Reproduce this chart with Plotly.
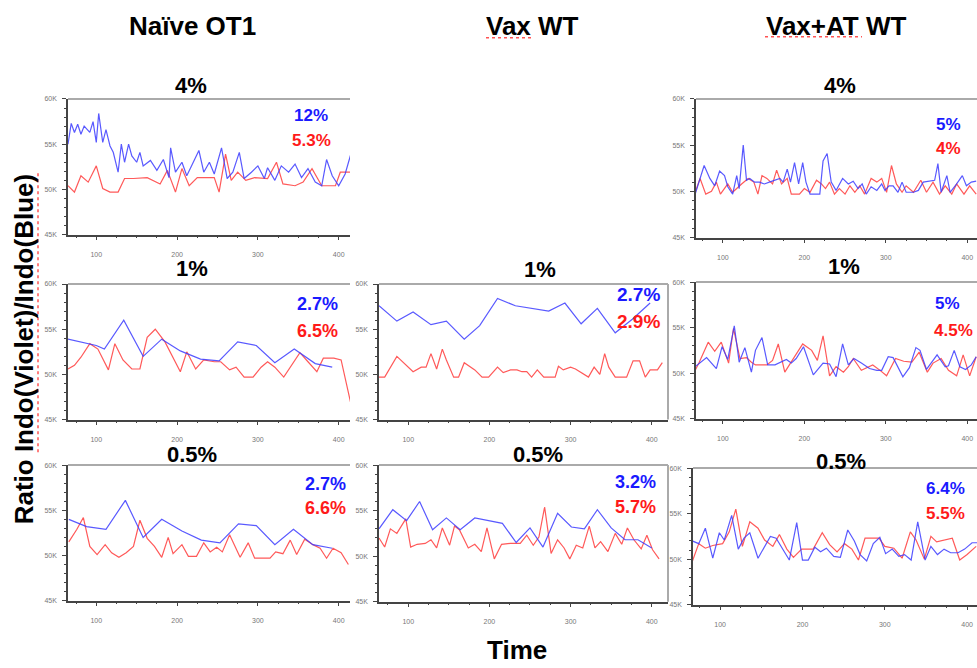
import plotly.graph_objects as go

W, H = 977, 668

# ---------------- data (time, ratio in K) ----------------
# Naive OT1 4%
naive4_t_blue = [65, 69, 73, 77, 81, 85, 92, 96, 100, 103, 108, 112, 117, 121, 127, 131, 135, 140, 144, 150, 154, 158, 167, 175, 183, 190, 192, 198, 206, 212, 219, 227, 233, 240, 246, 255, 262, 269, 277, 283, 292, 300, 308, 312, 321, 329, 338, 346, 354, 362, 371, 379, 385, 392, 400, 408, 415]
naive4_blue = [55.0, 57.3, 56.3, 57.2, 56.1, 57.0, 56.3, 57.5, 55.2, 58.4, 55.2, 56.6, 54.8, 54.1, 51.9, 55.0, 53.0, 55.0, 53.7, 53.0, 54.1, 52.6, 53.2, 52.1, 53.3, 51.3, 54.6, 51.9, 53.0, 51.5, 52.8, 54.3, 51.9, 53.0, 51.7, 54.6, 51.2, 51.9, 54.1, 51.2, 51.9, 52.6, 51.2, 52.4, 51.0, 52.6, 51.9, 52.8, 51.3, 52.3, 50.8, 50.4, 53.3, 51.5, 50.4, 51.7, 53.9]
naive4_t_red = [65, 73, 81, 90, 100, 108, 117, 127, 135, 146, 163, 179, 188, 198, 206, 215, 225, 246, 252, 260, 267, 275, 285, 296, 312, 323, 331, 346, 356, 367, 379, 396, 402, 415]
naive4_red = [50.4, 49.7, 51.5, 50.8, 52.6, 50.1, 49.7, 49.7, 51.2, 51.2, 51.3, 50.6, 52.1, 49.7, 52.3, 50.4, 51.3, 51.3, 49.7, 53.9, 51.0, 51.9, 51.0, 51.3, 51.2, 53.0, 50.6, 50.4, 50.8, 52.3, 50.4, 50.4, 51.9, 51.9]

# Naive OT1 1%
naive1_t_blue = [65, 100, 110, 134, 158, 181, 204, 229, 252, 275, 298, 321, 345, 371, 392]
naive1_blue = [53.9, 53.2, 52.8, 56.0, 52.0, 53.9, 52.6, 51.7, 51.5, 53.6, 53.2, 51.3, 52.8, 51.2, 50.8]
naive1_t_red = [65, 73, 81, 92, 102, 115, 123, 133, 144, 154, 163, 173, 185, 204, 212, 223, 233, 246, 254, 265, 273, 283, 294, 304, 312, 321, 332, 342, 352, 362, 373, 381, 394, 403, 415]
naive1_red = [50.6, 51.0, 51.9, 53.4, 52.8, 50.5, 53.4, 51.6, 50.6, 50.6, 54.1, 55.0, 53.6, 50.3, 52.5, 50.6, 51.6, 51.4, 51.4, 50.5, 50.8, 49.7, 49.7, 50.8, 51.4, 50.8, 49.7, 51.0, 52.4, 51.4, 50.3, 51.8, 51.8, 51.6, 46.8]

# Naive OT1 0.5%
naive05_t_blue = [66, 88, 112, 136, 158, 181, 206, 230, 253, 276, 298, 321, 344, 368, 392]
naive05_blue = [54.0, 53.2, 52.9, 56.1, 52.0, 54.0, 52.7, 51.7, 51.4, 53.5, 53.3, 51.2, 52.9, 51.2, 50.8]
naive05_t_red = [66, 76, 84, 92, 101, 111, 119, 128, 137, 146, 154, 163, 172, 181, 189, 195, 206, 214, 224, 233, 241, 249, 256, 265, 278, 288, 296, 315, 322, 331, 340, 348, 358, 368, 377, 385, 393, 403, 412]
naive05_red = [51.5, 52.9, 54.2, 51.0, 50.1, 51.2, 50.3, 49.8, 50.3, 51.0, 53.9, 51.9, 51.0, 49.8, 52.0, 50.2, 51.2, 49.9, 49.9, 51.4, 50.4, 50.9, 50.4, 52.3, 49.8, 51.4, 49.7, 49.7, 50.4, 50.2, 51.7, 50.1, 51.8, 51.2, 50.8, 49.7, 50.8, 50.3, 49.0]

# Vax WT 1%
vax1_t_blue = [64, 86, 106, 128, 147, 169, 188, 210, 232, 252, 273, 293, 313, 333, 355, 376, 398]
vax1_blue = [57.6, 55.9, 56.9, 55.5, 55.9, 53.9, 55.4, 58.4, 57.6, 57.3, 57.0, 57.9, 55.6, 57.3, 54.6, 56.1, 57.9]
vax1_t_red = [64, 71, 86, 106, 116, 122, 128, 135, 142, 147, 156, 162, 169, 182, 191, 199, 210, 217, 226, 234, 240, 246, 252, 259, 267, 281, 285, 291, 300, 306, 322, 329, 336, 342, 347, 355, 369, 377, 385, 392, 398, 407, 413]
vax1_red = [49.7, 49.7, 52.0, 50.3, 50.8, 50.8, 52.3, 50.6, 52.8, 51.6, 49.7, 49.7, 51.3, 50.5, 49.7, 49.7, 50.8, 50.2, 50.5, 50.5, 50.3, 50.3, 49.7, 50.5, 49.7, 49.7, 50.9, 50.5, 50.8, 50.6, 49.7, 50.8, 50.0, 52.3, 50.8, 49.7, 49.7, 51.5, 51.5, 49.7, 50.5, 50.5, 51.3]

# Vax WT 0.5%
vax05_t_blue = [64, 81, 98, 114, 130, 147, 164, 182, 199, 216, 233, 250, 266, 284, 301, 317, 333, 350, 367, 383, 400]
vax05_blue = [53.0, 55.1, 53.9, 56.0, 52.9, 54.2, 52.9, 54.2, 53.9, 53.6, 51.5, 53.1, 51.0, 54.7, 53.2, 53.0, 55.1, 53.1, 51.8, 51.8, 50.9]
vax05_t_red = [64, 71, 78, 86, 97, 103, 111, 121, 128, 135, 142, 151, 157, 163, 174, 182, 190, 197, 206, 215, 226, 238, 246, 254, 261, 268, 276, 284, 292, 299, 307, 315, 323, 330, 337, 346, 355, 363, 370, 378, 387, 394, 401, 409]
vax05_red = [52.0, 51.0, 53.0, 52.5, 54.1, 51.0, 51.3, 51.4, 51.8, 50.9, 53.1, 51.2, 53.3, 52.9, 50.9, 51.3, 50.5, 53.1, 49.7, 51.3, 51.4, 51.4, 52.3, 51.2, 52.1, 55.4, 50.3, 51.8, 50.9, 49.7, 51.2, 50.9, 53.3, 50.9, 51.6, 50.5, 52.5, 51.3, 53.1, 51.8, 50.8, 52.3, 50.7, 49.7]

# Vax+AT WT 4%
vaxat4_t_blue = [66, 71, 77, 84, 90, 96, 102, 106, 112, 117, 120, 125, 129, 133, 139, 145, 151, 157, 164, 170, 174, 179, 183, 188, 193, 198, 202, 207, 219, 223, 228, 233, 239, 247, 254, 260, 266, 271, 276, 282, 289, 295, 299, 304, 309, 315, 320, 325, 334, 340, 346, 354, 360, 364, 368, 375, 379, 387, 394, 399, 405, 411]
vaxat4_blue = [49.7, 51.0, 52.8, 51.4, 50.6, 52.2, 51.7, 50.5, 49.7, 51.7, 50.3, 55.0, 51.2, 51.4, 51.0, 51.0, 50.8, 51.0, 51.2, 51.4, 51.0, 52.4, 51.0, 53.1, 50.8, 53.1, 51.0, 49.7, 49.7, 53.3, 54.1, 51.0, 50.1, 51.4, 50.8, 51.1, 50.3, 50.8, 49.7, 50.5, 50.1, 50.8, 50.1, 50.6, 50.6, 49.9, 51.0, 49.9, 49.9, 50.1, 51.0, 51.1, 51.2, 53.0, 49.9, 51.7, 49.9, 50.8, 51.7, 50.6, 51.0, 51.1]
vaxat4_t_red = [66, 72, 79, 86, 92, 97, 106, 112, 123, 131, 138, 143, 148, 154, 161, 166, 172, 179, 184, 194, 200, 207, 215, 221, 226, 231, 237, 243, 250, 256, 262, 268, 274, 282, 289, 295, 301, 307, 313, 320, 325, 334, 343, 350, 358, 366, 373, 381, 387, 396, 403, 411]
vaxat4_red = [49.9, 51.4, 49.7, 50.0, 51.0, 49.7, 50.8, 49.9, 50.8, 51.4, 51.0, 49.7, 51.7, 51.4, 50.8, 52.3, 50.8, 51.4, 49.7, 49.7, 50.3, 49.9, 51.2, 50.8, 50.3, 51.0, 49.7, 50.3, 49.7, 50.6, 49.9, 50.6, 49.7, 51.4, 51.0, 51.4, 49.9, 52.8, 50.8, 49.9, 50.6, 49.9, 51.2, 49.9, 51.0, 49.7, 50.6, 49.7, 50.8, 49.7, 50.6, 49.7]

# Vax+AT WT 1%
vaxat1_t_blue = [66, 80, 92, 99, 106, 114, 120, 127, 135, 140, 148, 155, 164, 172, 178, 184, 190, 199, 211, 223, 231, 239, 247, 254, 261, 270, 280, 289, 295, 303, 309, 321, 329, 337, 342, 350, 363, 373, 377, 384, 391, 398, 405, 411]
vaxat1_blue = [50.7, 51.7, 50.5, 52.9, 51.5, 55.2, 51.2, 52.8, 50.1, 52.5, 53.9, 50.9, 50.9, 51.2, 51.5, 51.1, 51.6, 52.9, 49.8, 51.1, 51.0, 49.6, 53.2, 50.9, 51.6, 51.1, 50.5, 50.3, 50.3, 51.8, 51.7, 49.6, 50.6, 52.8, 52.5, 50.4, 52.0, 50.7, 50.8, 52.5, 50.7, 50.4, 50.9, 51.8]
vaxat1_t_red = [66, 71, 82, 90, 98, 107, 113, 121, 129, 135, 140, 154, 161, 168, 176, 186, 198, 209, 216, 223, 231, 239, 248, 254, 260, 270, 284, 293, 301, 312, 322, 332, 341, 351, 358, 368, 377, 387, 395, 403, 411]
vaxat1_red = [50.3, 51.2, 53.4, 52.4, 53.4, 51.1, 54.9, 51.6, 51.7, 51.2, 50.9, 50.9, 51.4, 53.2, 50.1, 51.5, 53.2, 52.5, 51.4, 54.1, 49.7, 50.7, 50.1, 50.7, 51.6, 50.3, 50.9, 50.3, 49.7, 51.6, 51.3, 51.2, 52.3, 50.1, 51.1, 51.6, 50.3, 49.7, 52.0, 49.7, 51.8]

# Vax+AT WT 0.5%
vaxat05_t_blue = [66, 74, 82, 91, 99, 105, 114, 122, 129, 136, 146, 161, 168, 176, 184, 193, 200, 207, 215, 222, 229, 238, 246, 255, 263, 270, 278, 286, 294, 301, 309, 317, 324, 332, 340, 349, 356, 364, 372, 380, 389, 397, 406, 413]
vaxat05_blue = [52.0, 51.7, 53.4, 50.1, 52.9, 52.1, 54.8, 51.1, 52.3, 52.9, 50.1, 52.5, 52.3, 51.1, 49.9, 54.0, 49.9, 49.9, 51.3, 50.8, 51.2, 50.3, 50.2, 53.2, 52.0, 50.5, 49.8, 51.7, 52.4, 50.6, 51.1, 50.3, 50.5, 49.9, 54.1, 49.9, 51.4, 50.5, 51.1, 50.7, 50.7, 51.1, 51.8, 51.8]
vaxat05_t_red = [66, 74, 82, 91, 103, 111, 119, 127, 136, 146, 154, 164, 172, 181, 189, 199, 213, 224, 233, 242, 251, 260, 268, 276, 293, 300, 311, 321, 331, 338, 348, 356, 363, 372, 382, 391, 400, 411]
vaxat05_red = [49.7, 51.7, 51.2, 51.5, 51.7, 53.0, 55.5, 51.4, 54.1, 53.4, 52.1, 51.4, 52.7, 51.1, 50.2, 51.1, 51.1, 52.9, 51.6, 50.8, 51.7, 51.1, 49.9, 52.3, 52.3, 51.4, 51.2, 50.1, 53.0, 52.1, 50.0, 52.5, 51.9, 52.1, 52.3, 49.9, 50.5, 51.4]

column_titles = ["Naïve OT1", "Vax WT", "Vax+AT WT"]
y_title = "Ratio Indo(Violet)/Indo(Blue)"
x_title = "Time"
y_ticks = [45, 50, 55, 60]
x_ticks = [100, 200, 300, 400]

BLUE = "rgba(60,60,255,0.85)"
RED = "rgba(255,60,60,0.85)"


def px(x):
    return x / W


def py(y):
    return 1 - y / H


panels = [
    dict(tb=naive4_t_blue, b=naive4_blue, tr=naive4_t_red, r=naive4_red, title="4%", pb="12%", pr="5.3%",
         xd=(68, 350), yd=(96, 233), xr=(65, 414), box=False, tpos=(191, 82), ppos=(330, 113, 333, 138), pfs=17),
    dict(tb=naive1_t_blue, b=naive1_blue, tr=naive1_t_red, r=naive1_red, title="1%", pb="2.7%", pr="6.5%",
         xd=(68, 350), yd=(283, 420), xr=(65, 414), box=False, tpos=(192, 267), ppos=(340, 303, 340, 330), pfs=18),
    dict(tb=naive05_t_blue, b=naive05_blue, tr=naive05_t_red, r=naive05_red, title="0.5%", pb="2.7%", pr="6.6%",
         xd=(68, 350), yd=(466, 603), xr=(65, 414), box=False, tpos=(192, 455), ppos=(348, 485, 348, 509), pfs=18),
    dict(tb=vax1_t_blue, b=vax1_blue, tr=vax1_t_red, r=vax1_red, title="1%", pb="2.7%", pr="2.9%",
         xd=(379, 668), yd=(283, 420), xr=(64, 420), box=True, tpos=(540, 268), ppos=(662, 294, 662, 321), pfs=19),
    dict(tb=vax05_t_blue, b=vax05_blue, tr=vax05_t_red, r=vax05_red, title="0.5%", pb="3.2%", pr="5.7%",
         xd=(379, 668), yd=(466, 604), xr=(64, 420), box=True, tpos=(538, 455), ppos=(658, 483, 658, 508), pfs=18),
    dict(tb=vaxat4_t_blue, b=vaxat4_blue, tr=vaxat4_t_red, r=vaxat4_red, title="4%", pb="5%", pr="4%",
         xd=(696, 977), yd=(96, 236), xr=(67, 412), box=False, tpos=(840, 82), ppos=(963, 122, 963, 146), pfs=17),
    dict(tb=vaxat1_t_blue, b=vaxat1_blue, tr=vaxat1_t_red, r=vaxat1_red, title="1%", pb="5%", pr="4.5%",
         xd=(696, 977), yd=(281, 419), xr=(67, 412), box=False, tpos=(844, 265), ppos=(962, 303, 975, 330), pfs=17),
    dict(tb=vaxat05_t_blue, b=vaxat05_blue, tr=vaxat05_t_red, r=vaxat05_red, title="0.5%", pb="6.4%", pr="5.5%",
         xd=(693, 977), yd=(469, 607), xr=(67, 412), box=False, tpos=(841, 462), ppos=(967, 490, 967, 515), pfs=17),
]

FONT = "Liberation Sans, Arial, sans-serif"
fig = go.Figure()
annotations = []
shapes = []
layout_axes = {}

for i, p in enumerate(panels):
    n = i + 1
    xa = "x" if n == 1 else f"x{n}"
    ya = "y" if n == 1 else f"y{n}"
    fig.add_trace(go.Scatter(x=p["tr"], y=p["r"], mode="lines", line=dict(color=RED, width=1.2),
                             xaxis=xa, yaxis=ya, hoverinfo="skip"))
    fig.add_trace(go.Scatter(x=p["tb"], y=p["b"], mode="lines", line=dict(color=BLUE, width=1.2),
                             xaxis=xa, yaxis=ya, hoverinfo="skip"))
    xkey = "xaxis" if n == 1 else f"xaxis{n}"
    ykey = "yaxis" if n == 1 else f"yaxis{n}"
    layout_axes[xkey] = dict(
        domain=[px(p["xd"][0]), px(p["xd"][1])], range=list(p["xr"]), anchor=ya,
        showline=True, linecolor="#444", linewidth=1.5, showgrid=False, zeroline=False,
        tickmode="array", tickvals=x_ticks, ticks="outside", ticklen=4, tickcolor="#444",
        tickfont=dict(size=7, color="#777", family=FONT), ticklabelstandoff=8,
        minor=dict(tickmode="linear", tick0=0, dtick=25, ticks="outside", ticklen=2, tickcolor="#444"),
    )
    layout_axes[ykey] = dict(
        domain=[py(p["yd"][1]), py(p["yd"][0])], range=[45, 60], anchor=xa,
        showline=True, linecolor="#444", linewidth=1.5, showgrid=False, zeroline=False,
        tickmode="array", tickvals=y_ticks, ticktext=[f"{v}K" for v in y_ticks],
        ticks="outside", ticklen=4, tickcolor="#444",
        tickfont=dict(size=7, color="#777", family=FONT), ticklabelstandoff=4,
        minor=dict(tickmode="linear", tick0=45, dtick=1, ticks="outside", ticklen=2, tickcolor="#444"),
    )
    shapes.append(dict(type="line", xref=f"{xa} domain", yref=f"{ya} domain", x0=0, x1=1, y0=1, y1=1,
                       line=dict(color="#aaa", width=2)))
    if p["box"]:
        shapes.append(dict(type="line", xref=f"{xa} domain", yref=f"{ya} domain", x0=1, x1=1, y0=0, y1=1,
                           line=dict(color="#aaa", width=2)))
    annotations.append(dict(text=f"<b>{p['title']}</b>", x=px(p["tpos"][0]), y=py(p["tpos"][1]),
                            xref="paper", yref="paper", showarrow=False, xanchor="center", yanchor="middle",
                            font=dict(size=22, color="black", family=FONT)))
    bx, by, rx, ry = p["ppos"]
    annotations.append(dict(text=f"<b>{p['pb']}</b>", x=px(bx), y=py(by),
                            xref="paper", yref="paper", showarrow=False, xanchor="right", yanchor="middle",
                            font=dict(size=p["pfs"], color="#1a1aff", family=FONT)))
    annotations.append(dict(text=f"<b>{p['pr']}</b>", x=px(rx), y=py(ry),
                            xref="paper", yref="paper", showarrow=False, xanchor="right", yanchor="middle",
                            font=dict(size=p["pfs"], color="#ff1a1a", family=FONT)))

for txt, cx in zip(column_titles, [192, 532, 836]):
    annotations.append(dict(text=f"<b>{txt}</b>", x=px(cx), y=py(22), xref="paper", yref="paper",
                            showarrow=False, xanchor="center", yanchor="middle",
                            font=dict(size=26, color="black", family=FONT)))

annotations.append(dict(text=f"<b>{y_title}</b>", x=px(24), y=py(349), xref="paper", yref="paper",
                        showarrow=False, xanchor="center", yanchor="middle", textangle=-90,
                        font=dict(size=26, color="black", family=FONT)))
annotations.append(dict(text=f"<b>{x_title}</b>", x=px(517), y=py(653), xref="paper", yref="paper",
                        showarrow=False, xanchor="center", yanchor="middle",
                        font=dict(size=26, color="black", family=FONT)))

# spell-check squiggles from the source slide
for (x0, y0, x1, y1) in [(38, 453, 38, 170), (486, 34, 533, 34), (765, 33, 862, 33)]:
    shapes.append(dict(type="line", xref="paper", yref="paper", x0=px(x0), y0=py(y0), x1=px(x1), y1=py(y1),
                       line=dict(color="rgba(255,40,40,0.8)", width=1.5, dash="dot")))

fig.update_layout(
    width=W, height=H, margin=dict(l=0, r=0, t=0, b=0),
    paper_bgcolor="white", plot_bgcolor="white", showlegend=False,
    annotations=annotations, shapes=shapes, font=dict(family=FONT),
    **layout_axes,
)

fig.write_html("out.html", config={"displayModeBar": False},
               post_script="document.body.style.margin='0px';document.body.style.overflow='hidden';")
